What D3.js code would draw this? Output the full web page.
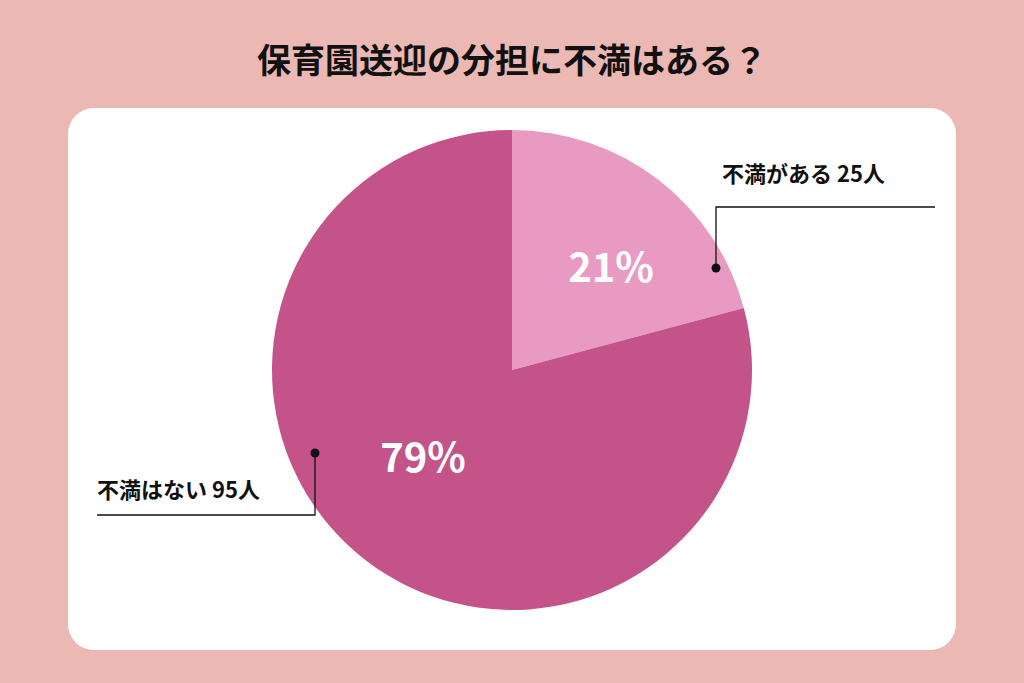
<!DOCTYPE html>
<html>
<head>
<meta charset="utf-8">
<script src="https://cdn.jsdelivr.net/npm/d3@7"></script>
<style>
body { margin: 0; background: #ecb8b3; }
svg { display: block; font-family: "Noto Sans CJK JP", "Noto Sans", sans-serif; }
</style>
</head>
<body>
<script>
var labels = ["不満がある", "不満はない"];
var counts = [25, 95];
var percents = ["21%", "79%"];
var colors = ["#e89ac3", "#c4538a"];

var W = 1024, H = 683;
var cx = 512, cy = 370, R = 240;

var svg = d3.select("body").append("svg").attr("width", W).attr("height", H);

svg.append("rect").attr("width", W).attr("height", H).attr("fill", "#ecb8b3");
svg.append("rect")
	.attr("x", 68).attr("y", 108).attr("width", 888).attr("height", 542)
	.attr("rx", 26).attr("fill", "#fff");

svg.append("text")
	.attr("x", W / 2).attr("y", 58)
	.attr("text-anchor", "middle").attr("dominant-baseline", "central")
	.attr("font-size", 34).attr("font-weight", 700).attr("fill", "#111")
	.text("保育園送迎の分担に不満はある？");

var pie = d3.pie().sort(null).value(d => d);
var arcs = pie(counts);
var arc = d3.arc().innerRadius(0).outerRadius(R);

var g = svg.append("g").attr("transform", `translate(${cx},${cy})`);
g.selectAll("path").data(arcs).enter().append("path")
	.attr("d", arc).attr("fill", (d, i) => colors[i]);

// percent labels
var pctPos = [[99, -105], [-89, 85]];
g.selectAll("text.pct").data(arcs).enter().append("text")
	.attr("x", (d, i) => pctPos[i][0]).attr("y", (d, i) => pctPos[i][1])
	.attr("text-anchor", "middle").attr("dominant-baseline", "central")
	.attr("font-size", 40).attr("font-weight", 700).attr("fill", "#fff")
	.text((d, i) => percents[i]);

// callouts
var callouts = [
	{ dot: [716, 268], corner: [716, 207], end: [935, 207], tx: 722, ty: 172, anchor: "start" },
	{ dot: [315, 453], corner: [315, 515], end: [97, 515], tx: 97, ty: 488, anchor: "start" }
];
callouts.forEach(function(c, i) {
	svg.append("polyline")
		.attr("points", [c.dot, c.corner, c.end].map(p => p.join(",")).join(" "))
		.attr("fill", "none").attr("stroke", "#111").attr("stroke-width", 1.3);
	svg.append("circle").attr("cx", c.dot[0]).attr("cy", c.dot[1]).attr("r", 4.5).attr("fill", "#111");
	svg.append("text")
		.attr("x", c.tx).attr("y", c.ty)
		.attr("text-anchor", c.anchor).attr("dominant-baseline", "central")
		.attr("font-size", 22).attr("font-weight", 700).attr("fill", "#111")
		.text(labels[i] + " " + counts[i] + "人");
});
</script>
</body>
</html>
